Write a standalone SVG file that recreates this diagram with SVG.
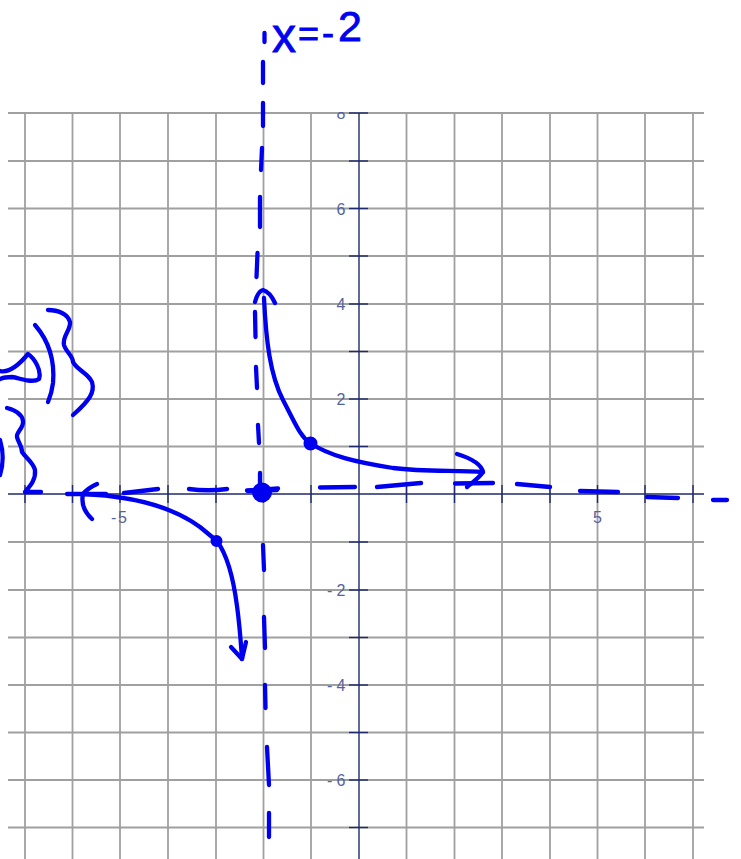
<svg xmlns="http://www.w3.org/2000/svg" width="741" height="859" viewBox="0 0 741 859">
<style>
.grid line{stroke:#a0a0a0;stroke-width:1.8}
.axis line{stroke:#1f2a6e;stroke-width:1.4}
.lbl{font-family:"Liberation Sans",Arial,sans-serif;font-size:16px;fill:#56629e}
.pen{fill:none;stroke:#0000f0;stroke-width:4.3;stroke-linecap:round;stroke-linejoin:round}
.dot{fill:#0000f0;stroke:#0000f0;stroke-width:2}
.hand{font-family:"Liberation Sans",Arial,sans-serif;fill:#0000f0;stroke:#0000f0;stroke-width:0.8}
</style>
<defs>
<clipPath id="topclip"><rect x="0" y="112" width="741" height="747"/></clipPath>
</defs>
<rect width="741" height="859" fill="#fff"/>
<g id="grid" class="grid">
<line x1="25" y1="113" x2="25" y2="859"/><line x1="72.5" y1="113" x2="72.5" y2="859"/><line x1="120" y1="113" x2="120" y2="859"/><line x1="168" y1="113" x2="168" y2="859"/><line x1="216" y1="113" x2="216" y2="859"/><line x1="263.5" y1="113" x2="263.5" y2="859"/><line x1="311" y1="113" x2="311" y2="859"/><line x1="406.5" y1="113" x2="406.5" y2="859"/><line x1="454.5" y1="113" x2="454.5" y2="859"/><line x1="502" y1="113" x2="502" y2="859"/><line x1="550" y1="113" x2="550" y2="859"/><line x1="597.5" y1="113" x2="597.5" y2="859"/><line x1="645" y1="113" x2="645" y2="859"/><line x1="693" y1="113" x2="693" y2="859"/>
<line x1="8" y1="113" x2="704" y2="113"/><line x1="8" y1="161" x2="704" y2="161"/><line x1="8" y1="208.5" x2="704" y2="208.5"/><line x1="8" y1="256" x2="704" y2="256"/><line x1="8" y1="304" x2="704" y2="304"/><line x1="8" y1="351.5" x2="704" y2="351.5"/><line x1="8" y1="399" x2="704" y2="399"/><line x1="8" y1="446.5" x2="704" y2="446.5"/><line x1="8" y1="542" x2="704" y2="542"/><line x1="8" y1="590" x2="704" y2="590"/><line x1="8" y1="637.5" x2="704" y2="637.5"/><line x1="8" y1="685" x2="704" y2="685"/><line x1="8" y1="732.5" x2="704" y2="732.5"/><line x1="8" y1="780" x2="704" y2="780"/><line x1="8" y1="827.5" x2="704" y2="827.5"/>
</g>
<g id="axes" class="axis">
<line x1="359" y1="113" x2="359" y2="859"/>
<line x1="8" y1="494" x2="704" y2="494"/>
<line x1="349" y1="113" x2="368" y2="113"/><line x1="349" y1="161" x2="368" y2="161"/><line x1="349" y1="208.5" x2="368" y2="208.5"/><line x1="349" y1="256" x2="368" y2="256"/><line x1="349" y1="304" x2="368" y2="304"/><line x1="349" y1="351.5" x2="368" y2="351.5"/><line x1="349" y1="399" x2="368" y2="399"/><line x1="349" y1="446.5" x2="368" y2="446.5"/><line x1="349" y1="542" x2="368" y2="542"/><line x1="349" y1="590" x2="368" y2="590"/><line x1="349" y1="637.5" x2="368" y2="637.5"/><line x1="349" y1="685" x2="368" y2="685"/><line x1="349" y1="732.5" x2="368" y2="732.5"/><line x1="349" y1="780" x2="368" y2="780"/><line x1="349" y1="827.5" x2="368" y2="827.5"/>
<line x1="25" y1="485" x2="25" y2="503"/><line x1="72.5" y1="485" x2="72.5" y2="503"/><line x1="120" y1="485" x2="120" y2="503"/><line x1="168" y1="485" x2="168" y2="503"/><line x1="216" y1="485" x2="216" y2="503"/><line x1="263.5" y1="485" x2="263.5" y2="503"/><line x1="311" y1="485" x2="311" y2="503"/><line x1="406.5" y1="485" x2="406.5" y2="503"/><line x1="454.5" y1="485" x2="454.5" y2="503"/><line x1="502" y1="485" x2="502" y2="503"/><line x1="550" y1="485" x2="550" y2="503"/><line x1="597.5" y1="485" x2="597.5" y2="503"/><line x1="645" y1="485" x2="645" y2="503"/><line x1="693" y1="485" x2="693" y2="503"/>
</g>
<g id="tick-labels" class="lbl">
<text x="345.5" y="119" text-anchor="end" clip-path="url(#topclip)">8</text>
<text x="345.5" y="215" text-anchor="end">6</text>
<text x="345.5" y="310" text-anchor="end">4</text>
<text x="345.5" y="405" text-anchor="end">2</text>
<text x="327" y="596">-<tspan x="336.5">2</tspan></text>
<text x="327" y="691">-<tspan x="336.5">4</tspan></text>
<text x="327" y="786">-<tspan x="336.5">6</tspan></text>
<text x="111" y="523">-<tspan x="118">5</tspan></text>
<text x="597.5" y="523" text-anchor="middle">5</text>
</g>
<g id="asymptote-vertical" class="pen">
<path d="M264.5,33 L264.5,42 M263,62 L263,83 M263,103 L263,126 M262,148 L261,170 M260,197 L260,227 M257.5,253 L256.5,277 M255,312 L255.5,337 M256,367 L257,388 M258,425 L259,443 M263,545 L264,570 M264,617 L265,648 M265,685 L265.5,708 M267,747 L269,785 M269,813 L269,837"/>
</g>
<g id="asymptote-horizontal" class="pen">
<path d="M67,494 L106,494 M124,493 L158,489 M189,489 Q208,491.5 227,489 M248,491 L277,490 M320,487.5 L355,487 M377,487 L421,483 M455,483.5 L493,483 M517,484 L550,487 M580,491 L618,492 M647,497 L678,498 M713,500 L727,500"/>
</g>
<g id="label-x-eq" class="hand">
<text><tspan x="272" y="52" font-size="48">x</tspan><tspan x="298" y="46" font-size="36">=</tspan><tspan x="322" y="45" font-size="36">-</tspan><tspan x="338" y="41" font-size="43">2</tspan></text>
</g>
<g id="branch-upper" class="pen">
<path d="M264,298 C266,340 270,375 283,400 S300,436 310,443 C330,456 355,462 393,468 C425,472 455,470 483,472"/>
<path d="M255,302 Q258,291 263,290 Q270,292 275,303"/>
<path d="M457,454 C470,458 481,463 483,472 C479,478 473,482 467,487"/>
<circle class="dot" cx="310.5" cy="443.5" r="6"/>
</g>
<g id="branch-lower" class="pen">
<path d="M83,494 C130,496 170,505 200,527 L217,541 C228,556 234,583 237,606 C240,628 241,645 242,659"/>
<path d="M97,484 Q88,488 83,494 Q80,508 92,519"/>
<path d="M231,647 L242,659 L246,642"/>
<circle class="dot" cx="216.5" cy="541" r="5"/>
</g>
<g id="point-hole" class="pen">
<circle class="dot" cx="262" cy="492.5" r="9"/>
<path d="M260,473 L260,484 M247,490.5 L278,488.5"/>
</g>
<g id="domain-scribble" class="pen">
<path d="M0,371 C8,373 18,366 28,354 C34,358 42,370 39,379 C32,384 20,378 12,377 C6,377 2,378 0,379"/>
<path d="M35,325 C48,340 55,360 53,383 C52,392 50,397 48,402"/>
<path d="M48,310 C58,310 68,314 70,322 C71,330 62,336 64,345 C66,352 73,356 73,362 C77,370 88,373 92,382 C95,392 90,400 73,415"/>
<path d="M7,408 C15,410 22,414 23,421 C24,428 16,432 17,437 C18,442 22,446 22,452 C26,458 33,462 35,470 C36,480 30,486 25,492 L41,492"/>
<path d="M0,440 C3,450 4,462 0,475"/>
</g>
</svg>
